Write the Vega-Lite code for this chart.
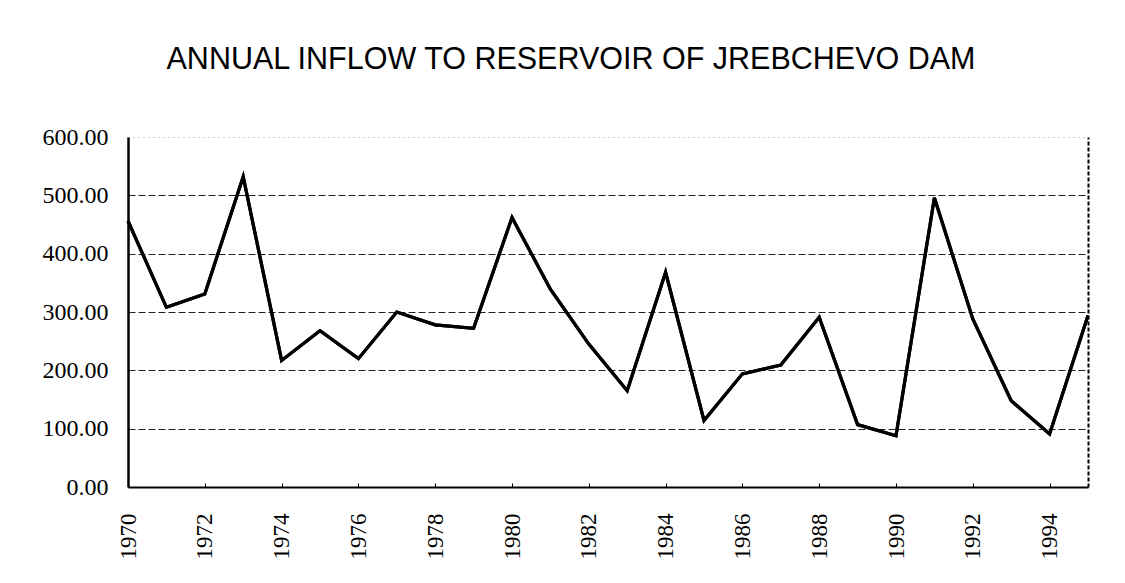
{
  "$schema": "https://vega.github.io/schema/vega-lite/v6.json",
  "autosize": {"type": "none"},
  "padding": {"left": 128, "top": 137, "right": 37, "bottom": 95},
  "width": 960,
  "height": 350,
  "background": "white",
  "title": {
    "text": "ANNUAL INFLOW TO RESERVOIR OF JREBCHEVO DAM",
    "font": "Liberation Sans",
    "fontSize": 30.5,
    "fontWeight": "normal",
    "color": "black",
    "anchor": "middle",
    "dx": -37,
    "offset": 50
  },
  "data": {
    "values": [
      {"year": 1970, "inflow": 456},
      {"year": 1971, "inflow": 308},
      {"year": 1972, "inflow": 331},
      {"year": 1973, "inflow": 532},
      {"year": 1974, "inflow": 217},
      {"year": 1975, "inflow": 268},
      {"year": 1976, "inflow": 220},
      {"year": 1977, "inflow": 300},
      {"year": 1978, "inflow": 278},
      {"year": 1979, "inflow": 272},
      {"year": 1980, "inflow": 462},
      {"year": 1981, "inflow": 339},
      {"year": 1982, "inflow": 245},
      {"year": 1983, "inflow": 165},
      {"year": 1984, "inflow": 368},
      {"year": 1985, "inflow": 114},
      {"year": 1986, "inflow": 194},
      {"year": 1987, "inflow": 209},
      {"year": 1988, "inflow": 291},
      {"year": 1989, "inflow": 107},
      {"year": 1990, "inflow": 88},
      {"year": 1991, "inflow": 496},
      {"year": 1992, "inflow": 288},
      {"year": 1993, "inflow": 148},
      {"year": 1994, "inflow": 91},
      {"year": 1995, "inflow": 294}
    ]
  },
  "config": {"view": {"stroke": null}},
  "resolve": {"axis": {"y": "independent"}},
  "layer": [
    {
      "mark": {"type": "line", "color": "black", "strokeWidth": 3.2, "strokeJoin": "miter"},
      "encoding": {
        "x": {
          "field": "year",
          "type": "quantitative",
          "scale": {"domain": [1970, 1995], "nice": false, "zero": false},
          "axis": {
            "title": null,
            "values": [1970,1971,1972,1973,1974,1975,1976,1977,1978,1979,1980,1981,1982,1983,1984,1985,1986,1987,1988,1989,1990,1991,1992,1993,1994,1995],
            "format": "d",
            "labelExpr": "datum.value % 2 == 0 && datum.value < 1995 ? datum.label : ''",
            "labelAngle": 270,
            "labelAlign": "right",
            "labelBaseline": "middle",
            "labelFont": "Liberation Serif",
            "labelFontSize": 23,
            "labelColor": "black",
            "labelPadding": 30,
            "labelFlush": false,
            "labelOverlap": false,
            "domainColor": "black",
            "domainWidth": 2,
            "tickColor": "black",
            "tickSize": -4,
            "tickWidth": 1,
            "grid": false
          }
        },
        "y": {
          "field": "inflow",
          "type": "quantitative",
          "scale": {"domain": [0, 600], "nice": false},
          "axis": {
            "title": null,
            "values": [0, 100, 200, 300, 400, 500, 600],
            "format": ".2f",
            "labelFont": "Liberation Serif",
            "labelFontSize": 24,
            "labelColor": "black",
            "labelPadding": 20,
            "ticks": false,
            "domainColor": "black",
            "domainWidth": 2.5,
            "grid": true,
            "gridColor": {"condition": {"test": "datum.value == 600", "value": "#9a9a9a"}, "value": "#222222"},
            "gridDash": {"condition": {"test": "datum.value == 600", "value": [1, 4]}, "value": [7, 3]},
            "gridWidth": 1
          }
        }
      }
    },
    {
      "mark": {"type": "line", "color": "black", "strokeWidth": 3.2, "strokeJoin": "miter"},
      "encoding": {
        "x": {"field": "year", "type": "quantitative"},
        "y": {
          "field": "inflow",
          "type": "quantitative",
          "axis": {
            "orient": "right",
            "title": null,
            "labels": false,
            "ticks": false,
            "grid": false,
            "domainColor": "black",
            "domainWidth": 2,
            "domainDash": [4, 2]
          }
        }
      }
    }
  ]
}
